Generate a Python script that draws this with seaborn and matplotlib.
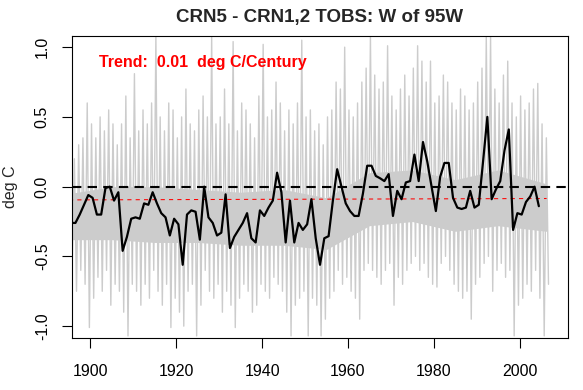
import numpy as np
import pandas as pd
import seaborn as sns
import matplotlib.pyplot as plt

# annual means (black line), one value per year starting 1895
annual_start = 1895
annual_vals = [
    -0.26, -0.26, -0.20, -0.13, -0.06, -0.08, -0.20, -0.20, -0.01, 0.00,
    -0.10, -0.04, -0.46, -0.36, -0.23, -0.22, -0.23, -0.12, -0.13, -0.04,
    -0.12, -0.19, -0.22, -0.35, -0.23, -0.27, -0.56, -0.20, -0.17, -0.18,
    -0.38, 0.00, -0.22, -0.26, -0.35, -0.33, -0.055, -0.44, -0.36, -0.31,
    -0.26, -0.19, -0.37, -0.40, -0.17, -0.21, -0.15, -0.10, 0.10, -0.04,
    -0.40, -0.10, -0.40, -0.26, -0.31, -0.27, -0.09, -0.37, -0.56, -0.37,
    -0.355, -0.10, 0.125, 0.00, -0.12, -0.175, -0.21, -0.21, -0.05, 0.15,
    0.15, 0.077, 0.06, 0.04, 0.09, -0.21, -0.03, -0.09, 0.03, 0.04,
    0.23, 0.04, 0.32, 0.18, 0.00, -0.175, 0.07, 0.17, 0.17, -0.08,
    -0.15, -0.16, -0.15, -0.03, -0.15, -0.13, 0.18, 0.50, -0.09, -0.02,
    0.04, 0.26, 0.41, -0.31, -0.19, -0.20, -0.11, -0.07, 0.00, -0.14,
]

# monthly series (grey): upper and lower spike per year, 1895-2006
monthly_start = 1895
monthly_hi = [
    0.45, 0.20, 0.30, 0.35, 0.60, 0.45, 0.35, 0.50, 0.40, 0.55,
    0.45, 0.30, 0.45, 0.65, 0.35, 0.81, 0.40, 0.55, 0.45, 0.60,
    1.08, 0.50, 0.40, 0.60, 0.55, 0.35, 0.50, 0.70, 0.45, 0.40,
    0.55, 0.65, 0.50, 1.08, 0.45, 0.50, 0.70, 0.45, 1.04, 0.40,
    0.60, 0.55, 0.45, 0.35, 0.65, 1.02, 0.50, 0.55, 0.75, 0.60,
    0.40, 0.55, 0.45, 0.60, 1.05, 0.50, 0.55, 0.40, 0.45, 0.30,
    0.50, 0.55, 0.75, 0.70, 1.00, 0.55, 0.50, 0.60, 0.75, 0.85,
    1.08, 0.80, 0.70, 0.75, 1.01, 0.65, 0.55, 0.70, 0.80, 0.65,
    0.85, 1.01, 0.90, 0.75, 0.90, 0.60, 0.65, 0.80, 0.75, 0.60,
    0.55, 0.70, 0.65, 0.55, 0.60, 0.75, 0.85, 1.08, 1.08, 0.70,
    0.60, 0.80, 0.90, 0.60, 0.50, 0.65, 0.55, 0.60, 0.70, 0.74,
    0.45, 0.35,
]
monthly_lo = [
    -0.55, -0.75, -0.60, -0.70, -1.01, -0.80, -0.65, -0.75, -0.60, -0.85,
    -0.70, -0.75, -0.90, -1.07, -0.70, -0.75, -0.85, -0.70, -0.80, -0.60,
    -0.75, -0.85, -0.70, -1.01, -0.80, -0.90, -1.00, -0.75, -0.70, -1.07,
    -0.85, -0.60, -0.75, -0.80, -0.70, -0.90, -0.75, -0.85, -1.01, -0.80,
    -0.70, -0.75, -0.90, -0.85, -0.70, -0.75, -0.80, -0.65, -0.70, -0.75,
    -0.90, -1.07, -0.85, -0.80, -0.75, -1.07, -0.80, -0.85, -1.07, -0.95,
    -0.80, -0.75, -0.60, -0.70, -0.65, -0.75, -0.80, -0.95, -0.60, -0.55,
    -0.60, -0.65, -0.70, -0.60, -0.55, -0.85, -0.65, -0.70, -0.60, -0.55,
    -0.50, -0.60, -0.55, -0.65, -0.70, -0.72, -0.55, -0.50, -0.60, -0.70,
    -0.75, -0.80, -0.75, -0.95, -0.70, -0.65, -0.55, -0.50, -0.75, -0.60,
    -0.55, -0.65, -0.60, -1.07, -0.85, -0.80, -0.70, -0.75, -0.60, -0.80,
    -1.07, -0.70,
]

# dense core of the monthly cloud, read per decade
core_years = [1895, 1905, 1915, 1925, 1935, 1945, 1955, 1965, 1975, 1985, 1995, 2006.3]
core_hi = [-0.05, 0.00, 0.00, -0.02, -0.04, -0.02, -0.08, 0.10, 0.12, 0.05, 0.12, 0.02]
core_lo = [-0.38, -0.38, -0.40, -0.40, -0.42, -0.42, -0.45, -0.28, -0.25, -0.32, -0.28, -0.32]

# fitted trend (red dashed)
trend_years = [1895.0, 2006.3]
trend_vals = [-0.095, -0.085]
trend_label = "Trend:  0.01  deg C/Century"

x_ticks = [1900, 1920, 1940, 1960, 1980, 2000]
y_ticks = [-1.0, -0.5, 0.0, 0.5, 1.0]

years = annual_start + np.arange(len(annual_vals))
annual = pd.DataFrame({"year": years + 0.5, "temp": annual_vals})

myears = monthly_start + np.arange(len(monthly_hi))
monthly = pd.DataFrame({
    "year": np.column_stack([myears + 0.25, myears + 0.75]).ravel(),
    "temp": np.column_stack([monthly_hi, monthly_lo]).ravel(),
})

sns.set_style("ticks")
plt.rcParams["font.family"] = ["Liberation Sans", "DejaVu Sans"]

fig, ax = plt.subplots(figsize=(5.83, 3.9), dpi=100)
fig.subplots_adjust(left=0.1235, right=0.9743, bottom=0.1333, top=0.9077)

ax.fill_between(core_years, core_lo, core_hi, color="#cccccc", linewidth=0)
sns.lineplot(data=monthly, x="year", y="temp", color="#cccccc",
             linewidth=1.0, estimator=None, ax=ax)
ax.axhline(0, color="black", linewidth=1.5, linestyle=(0, (4.5, 3)))
sns.lineplot(x=trend_years, y=trend_vals, color="red", linewidth=0.75,
             linestyle=(0, (4, 4)), estimator=None, ax=ax)
sns.lineplot(data=annual, x="year", y="temp", color="black",
             linewidth=1.6, estimator=None, ax=ax)

ax.text(1901.9, 0.89, trend_label, color="red", fontsize=11.5,
        fontweight="bold", va="center", ha="left")

ax.set_xlim(1895.7, 2011.3)
ax.set_ylim(-1.085, 1.08)
ax.set_xticks(x_ticks)
ax.set_yticks(y_ticks)
ax.set_yticklabels([f"{v:.1f}" for v in y_ticks], rotation=90, va="center")
ax.tick_params(axis="both", direction="out", length=7, width=0.8,
               labelsize=11.5, colors="black")
ax.tick_params(axis="x", pad=12)
ax.tick_params(axis="y", pad=9)
ax.set_xlabel("")
ax.set_ylabel("deg C", fontsize=11.5, labelpad=12)
for s in ax.spines.values():
    s.set_color("black")
    s.set_linewidth(0.8)
ax.set_title("CRN5 - CRN1,2 TOBS: W of 95W", fontsize=13.5,
             fontweight="bold", pad=10)

fig.savefig("out.png", dpi=100)
